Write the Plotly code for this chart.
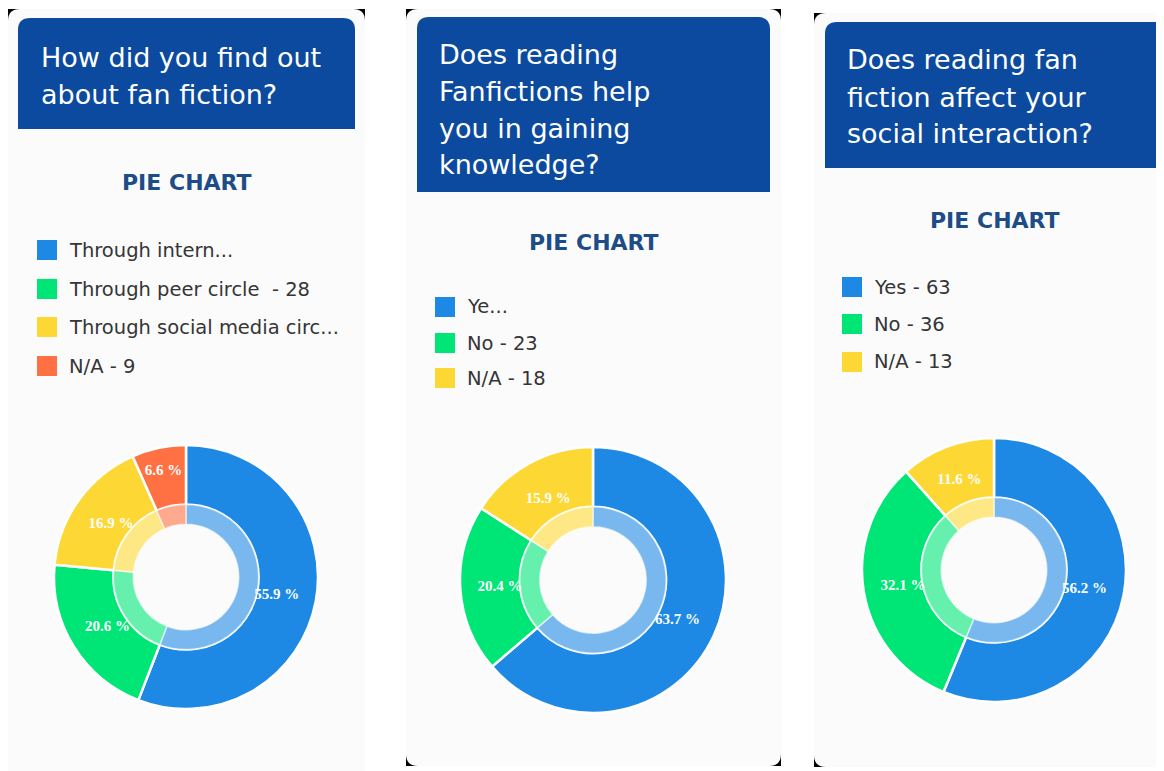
import plotly.graph_objects as go

W, H = 1164, 771
OFF = 8  # page body margin of the exported html

# ---------------- data ----------------
q1_title = ["How did you find out", "about fan fiction?"]
q1_legend = ["Through intern...", "Through peer circle  - 28", "Through social media circ...", "N/A - 9"]
q1_values = [76, 28, 23, 9]

q2_title = ["Does reading", "Fanfictions help", "you in gaining", "knowledge?"]
q2_legend = ["Ye...", "No - 23", "N/A - 18"]
q2_values = [72, 23, 18]

q3_title = ["Does reading fan", "fiction affect your", "social interaction?"]
q3_legend = ["Yes - 63", "No - 36", "N/A - 13"]
q3_values = [63, 36, 13]

subtitle = "PIE CHART"

# ---------------- styles ----------------
base_colors = [(30, 136, 229), (0, 230, 118), (253, 216, 53), (255, 112, 67)]


def rgb(c):
    return "rgb(%d,%d,%d)" % c


def light(c, k=0.6):
    return "rgb(%d,%d,%d)" % tuple(round(k * v + (1 - k) * 255) for v in c)


HEADER_BLUE = "#0b4a9e"
PANEL_BG = "#fbfbfb"
SUB_COLOR = "#1d4c86"
LEG_TEXT = "#353535"
FONT = "DejaVu Sans"


def px(x):
    return (x - OFF) / W


def py(y):
    return 1 - (y - OFF) / H


def rrect_path(x0, y0, x1, y1, rtl, rtr, rbr, rbl):
    """rounded rectangle path in paper coordinates (input in pixels)."""
    def P(x, y):
        return "%.6f,%.6f" % (px(x), py(y))
    d = "M" + P(x0 + rtl, y0)
    d += " L" + P(x1 - rtr, y0)
    d += " Q" + P(x1, y0) + " " + P(x1, y0 + rtr)
    d += " L" + P(x1, y1 - rbr)
    d += " Q" + P(x1, y1) + " " + P(x1 - rbr, y1)
    d += " L" + P(x0 + rbl, y1)
    d += " Q" + P(x0, y1) + " " + P(x0, y1 - rbl)
    d += " L" + P(x0, y0 + rtl)
    d += " Q" + P(x0, y0) + " " + P(x0 + rtl, y0)
    return d + " Z"


panels = [
    dict(title=q1_title, legend=q1_legend, values=q1_values,
         box=(8, 9, 365, 790), radii=(12, 12, 0, 0), black=(8, 9, 365, 30),
         header=(18, 18, 355, 129), title_x=39, title_y0=57,
         sub=(187, 183), leg_x=37, leg_y=[250, 289, 327, 366],
         center=(186, 577), R=132),
    dict(title=q2_title, legend=q2_legend, values=q2_values,
         box=(406, 9, 781, 766), radii=(12, 12, 12, 12), black=(406, 9, 781, 766),
         header=(417, 17, 770, 192), title_x=437, title_y0=54,
         sub=(594, 242), leg_x=435, leg_y=[307, 343, 378],
         center=(593, 580), R=133),
    dict(title=q3_title, legend=q3_legend, values=q3_values,
         box=(814, 13, 1180, 767), radii=(12, 0, 0, 12), black=(814, 13, 840, 767),
         header=(825, 22, 1180, 168), title_x=845, title_y0=60,
         sub=(995, 220), leg_x=842, leg_y=[287, 324, 362],
         center=(994, 570), R=132),
]

fig = go.Figure()
shapes = []
annotations = []

HOLE = 0.40
RING = 0.55

for p in panels:
    # black phone-screenshot corners behind the panel
    bx0, by0, bx1, by1 = p["black"]
    shapes.append(dict(type="rect", xref="paper", yref="paper", layer="below",
                       x0=px(bx0), x1=px(bx1), y0=py(by1), y1=py(by0),
                       fillcolor="#000000", line=dict(width=0)))
    x0, y0, x1, y1 = p["box"]
    shapes.append(dict(type="path", xref="paper", yref="paper", layer="below",
                       path=rrect_path(x0, y0, x1, y1, *p["radii"]),
                       fillcolor=PANEL_BG, line=dict(width=0)))
    hx0, hy0, hx1, hy1 = p["header"]
    shapes.append(dict(type="path", xref="paper", yref="paper", layer="below",
                       path=rrect_path(hx0, hy0, hx1, hy1, 12, 12, 0, 0),
                       fillcolor=HEADER_BLUE, line=dict(width=0)))
    for i, line in enumerate(p["title"]):
        annotations.append(dict(text=line, xref="paper", yref="paper",
                                x=px(p["title_x"]), y=py(p["title_y0"] + 37 * i),
                                xanchor="left", yanchor="middle", showarrow=False,
                                font=dict(family=FONT, size=27, color="#ffffff")))
    annotations.append(dict(text="<b>" + subtitle + "</b>", xref="paper", yref="paper",
                            x=px(p["sub"][0]), y=py(p["sub"][1]),
                            xanchor="center", yanchor="middle", showarrow=False,
                            font=dict(family=FONT, size=22, color=SUB_COLOR)))
    n = len(p["values"])
    cols = [rgb(c) for c in base_colors[:n]]
    lcols = [light(c) for c in base_colors[:n]]
    for i, lab in enumerate(p["legend"]):
        yc = p["leg_y"][i]
        shapes.append(dict(type="rect", xref="paper", yref="paper",
                           x0=px(p["leg_x"]), x1=px(p["leg_x"] + 20),
                           y0=py(yc + 10), y1=py(yc - 10),
                           fillcolor=cols[i], line=dict(width=0)))
        annotations.append(dict(text=lab, xref="paper", yref="paper",
                                x=px(p["leg_x"] + 30), y=py(yc),
                                xanchor="left", yanchor="middle", showarrow=False,
                                font=dict(family=FONT, size=19.5, color=LEG_TEXT)))

    cx, cy = p["center"]
    R = p["R"]

    def dom(r):
        return dict(x=[px(cx - r), px(cx + r)], y=[py(cy + r), py(cy - r)])

    total = sum(p["values"])
    pct_text = ["%.1f %%" % (v / total * 100) for v in p["values"]]
    labels = p["legend"]

    # outer full-colour ring
    fig.add_trace(go.Pie(values=p["values"], labels=labels, domain=dom(R), hole=RING,
                         sort=False, direction="clockwise", rotation=0,
                         marker=dict(colors=cols, line=dict(color="#ffffff", width=2.5)),
                         textinfo="none", showlegend=False, hoverinfo="skip"))
    # inner light ring
    fig.add_trace(go.Pie(values=p["values"], labels=labels, domain=dom(R * RING),
                         hole=HOLE / RING, sort=False, direction="clockwise", rotation=0,
                         marker=dict(colors=lcols, line=dict(color="rgba(255,255,255,0.6)", width=1.5)),
                         textinfo="none", showlegend=False, hoverinfo="skip"))
    # percentage labels
    fig.add_trace(go.Pie(values=p["values"], labels=labels, domain=dom(R), hole=HOLE,
                         sort=False, direction="clockwise", rotation=0,
                         marker=dict(colors=["rgba(0,0,0,0)"] * n, line=dict(width=0)),
                         text=pct_text, textinfo="text", textposition="inside",
                         insidetextorientation="horizontal",
                         textfont=dict(family="Liberation Serif", size=15, color="#ffffff", weight="bold"),
                         showlegend=False, hoverinfo="skip"))

fig.update_layout(
    width=W, height=H,
    margin=dict(l=0, r=0, t=0, b=0),
    paper_bgcolor="#ffffff", plot_bgcolor="#ffffff",
    shapes=shapes, annotations=annotations,
    uniformtext=dict(minsize=15, mode="show"),
    showlegend=False,
)

fig.write_html("out.html")
